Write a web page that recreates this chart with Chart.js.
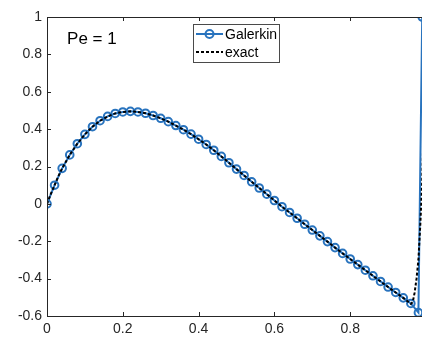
<!DOCTYPE html>
<html lang="en">
<head>
  <meta charset="UTF-8" />
  <title>Pe = 1</title>
  <script src="https://cdn.jsdelivr.net/npm/chart.js@4.4.0/dist/chart.umd.min.js"></script>
  <style>
    html, body {
      margin: 0;
      padding: 0;
      background: #ffffff;
      overflow: hidden;
    }
    canvas {
      display: block;
    }
  </style>
</head>
<body>

  <canvas id="peChart" width="440" height="338"></canvas>

  <script>
    // values
    const galerkinX = [0, 0.02, 0.04, 0.06, 0.08, 0.10, 0.12, 0.14, 0.16, 0.18,
      0.20, 0.22, 0.24, 0.26, 0.28, 0.30, 0.32, 0.34, 0.36, 0.38,
      0.40, 0.42, 0.44, 0.46, 0.48, 0.50, 0.52, 0.54, 0.56, 0.58,
      0.60, 0.62, 0.64, 0.66, 0.68, 0.70, 0.72, 0.74, 0.76, 0.78,
      0.80, 0.82, 0.84, 0.86, 0.88, 0.90, 0.92, 0.94, 0.96, 0.98, 0.99];
    const galerkinY = [0, 0.100, 0.190, 0.262, 0.322, 0.372, 0.413, 0.445, 0.468, 0.484,
      0.492, 0.495, 0.492, 0.485, 0.473, 0.458, 0.440, 0.419, 0.397, 0.373,
      0.346, 0.318, 0.287, 0.254, 0.220, 0.186, 0.152, 0.118, 0.085, 0.052,
      0.018, -0.015, -0.046, -0.077, -0.109, -0.140, -0.171, -0.202, -0.234, -0.265,
      -0.295, -0.325, -0.355, -0.385, -0.415, -0.445, -0.474, -0.503, -0.533, -0.582, 1];

    const exactX = [0, 0.01, 0.02, 0.03, 0.04, 0.06, 0.08, 0.10, 0.12, 0.14, 0.16, 0.18,
      0.20, 0.22, 0.24, 0.26, 0.28, 0.30, 0.32, 0.34, 0.36, 0.38,
      0.40, 0.42, 0.44, 0.46, 0.48, 0.50, 0.52, 0.54, 0.56, 0.58,
      0.60, 0.62, 0.64, 0.66, 0.68, 0.70, 0.72, 0.74, 0.76, 0.78,
      0.80, 0.82, 0.84, 0.86, 0.88, 0.90, 0.92, 0.94, 0.96,
      0.965, 0.97, 0.975, 0.98, 0.985, 0.99, 0.995, 1];
    const exactY = [0, 0.053, 0.100, 0.148, 0.190, 0.262, 0.322, 0.372, 0.413, 0.445, 0.468, 0.484,
      0.492, 0.495, 0.492, 0.485, 0.473, 0.458, 0.440, 0.419, 0.397, 0.373,
      0.346, 0.318, 0.287, 0.254, 0.220, 0.186, 0.152, 0.118, 0.085, 0.052,
      0.018, -0.015, -0.046, -0.077, -0.109, -0.140, -0.171, -0.202, -0.234, -0.265,
      -0.295, -0.325, -0.355, -0.385, -0.415, -0.445, -0.474, -0.503, -0.535,
      -0.525, -0.475, -0.400, -0.300, -0.110, 0.120, 0.500, 1];

    const xTicks = [0, 0.2, 0.4, 0.6, 0.8, 1];
    const yTicks = [-0.6, -0.4, -0.2, 0, 0.2, 0.4, 0.6, 0.8, 1];
    const seriesLabels = ['Galerkin', 'exact'];
    const noteText = 'Pe = 1';

    const blue = 'rgb(40, 115, 190)';
    const axisColor = '#262626';
    const fontFamily = "'Liberation Sans', Arial, sans-serif";

    Chart.defaults.font.family = fontFamily;

    const toPoints = (xs, ys) => xs.map((x, i) => ({ x: x, y: ys[i] }));

    // MATLAB-like box, inward ticks, note and legend
    const matlabFrame = {
      id: 'matlabFrame',
      afterDatasetsDraw(chart) {
        const ctx = chart.ctx;
        const a = chart.chartArea;
        const xs = chart.scales.x;
        const ys = chart.scales.y;
        const tick = 4;

        ctx.save();
        ctx.strokeStyle = axisColor;
        ctx.lineWidth = 1;
        ctx.beginPath();
        ctx.rect(Math.round(a.left) + 0.5, Math.round(a.top) + 0.5,
                 Math.round(a.right - a.left), Math.round(a.bottom - a.top));
        xTicks.forEach(v => {
          const px = Math.round(xs.getPixelForValue(v)) + 0.5;
          ctx.moveTo(px, a.bottom); ctx.lineTo(px, a.bottom - tick);
          ctx.moveTo(px, a.top); ctx.lineTo(px, a.top + tick);
        });
        yTicks.forEach(v => {
          const py = Math.round(ys.getPixelForValue(v)) + 0.5;
          ctx.moveTo(a.left, py); ctx.lineTo(a.left + tick, py);
          ctx.moveTo(a.right, py); ctx.lineTo(a.right - tick, py);
        });
        ctx.stroke();

        // annotation
        ctx.fillStyle = '#000';
        ctx.font = '17px ' + fontFamily;
        ctx.textAlign = 'left';
        ctx.textBaseline = 'middle';
        ctx.fillText(noteText, xs.getPixelForValue(0.053), ys.getPixelForValue(0.88));

        // legend box
        const lx = a.left + 146, ly = a.top + 7, lw = 86, lh = 38;
        ctx.fillStyle = '#fff';
        ctx.fillRect(lx, ly, lw, lh);
        ctx.strokeStyle = '#4a4a4a';
        ctx.strokeRect(Math.round(lx) + 0.5, Math.round(ly) + 0.5, lw, lh);

        const rows = [ly + 10, ly + 28];
        const sx0 = lx + 3, sx1 = lx + 30;
        // Galerkin sample
        ctx.strokeStyle = blue;
        ctx.lineWidth = 2;
        ctx.beginPath();
        ctx.moveTo(sx0, rows[0]); ctx.lineTo(sx1, rows[0]);
        ctx.stroke();
        ctx.beginPath();
        ctx.arc((sx0 + sx1) / 2, rows[0], 4, 0, Math.PI * 2);
        ctx.stroke();
        // exact sample
        ctx.strokeStyle = '#000';
        ctx.setLineDash([3, 2]);
        ctx.beginPath();
        ctx.moveTo(sx0, rows[1]); ctx.lineTo(sx1, rows[1]);
        ctx.stroke();
        ctx.setLineDash([]);

        ctx.fillStyle = '#000';
        ctx.font = '14px ' + fontFamily;
        ctx.fillText(seriesLabels[0], sx1 + 2, rows[0] + 1);
        ctx.fillText(seriesLabels[1], sx1 + 2, rows[1] + 1);
        ctx.restore();
      }
    };

    const ctx = document.getElementById('peChart').getContext('2d');

    new Chart(ctx, {
      type: 'scatter',
      data: {
        datasets: [
          {
            label: seriesLabels[0],
            data: toPoints(galerkinX, galerkinY),
            showLine: true,
            borderColor: blue,
            borderWidth: 2,
            pointRadius: 3.8,
            pointBorderWidth: 2,
            pointBorderColor: blue,
            pointBackgroundColor: 'rgba(0,0,0,0)',
            order: 1
          },
          {
            label: seriesLabels[1],
            data: toPoints(exactX, exactY),
            showLine: true,
            borderColor: '#000',
            borderWidth: 2,
            borderDash: [3, 2],
            pointRadius: 0,
            order: 0
          }
        ]
      },
      options: {
        responsive: false,
        animation: false,
        devicePixelRatio: 1,
        layout: { padding: { top: 17, right: 14, bottom: 0, left: 0 } },
        plugins: {
          legend: { display: false },
          tooltip: { enabled: false }
        },
        scales: {
          x: {
            type: 'linear',
            min: 0,
            max: 1,
            grid: { display: false, drawTicks: false },
            border: { display: false },
            afterBuildTicks: s => { s.ticks = xTicks.map(v => ({ value: v })); },
            afterFit: s => { s.height = 22; },
            ticks: {
              color: axisColor,
              font: { size: 14 },
              padding: 5,
              maxRotation: 0,
              callback: v => String(Number(v.toFixed(1)))
            }
          },
          y: {
            min: -0.6,
            max: 1,
            grid: { display: false, drawTicks: false },
            border: { display: false },
            afterBuildTicks: s => { s.ticks = yTicks.map(v => ({ value: v })); },
            afterFit: s => { s.width = 47; },
            ticks: {
              color: axisColor,
              font: { size: 14 },
              padding: 5,
              callback: v => String(Number(v.toFixed(1)))
            }
          }
        }
      },
      plugins: [matlabFrame]
    });
  </script>

</body>
</html>
